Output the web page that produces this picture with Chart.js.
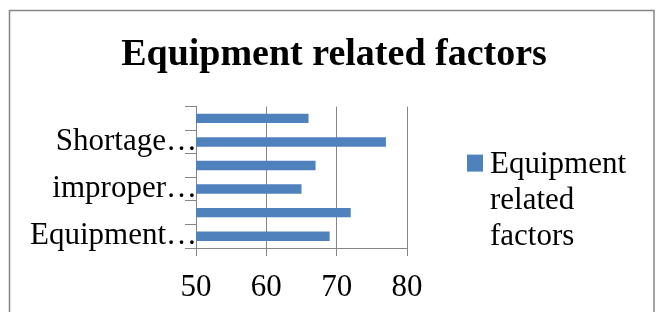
<!DOCTYPE html>
<html>
<head>
<meta charset="utf-8">
<script src="https://cdn.jsdelivr.net/npm/chart.js@4/dist/chart.umd.min.js"></script>
<style>
html,body{margin:0;padding:0;background:#fff;}
#wrap{width:660px;height:312px;position:relative;}
</style>
</head>
<body>
<div id="wrap"><canvas id="c" width="660" height="312"></canvas></div>
<script>
// categories listed bottom-to-top (first category is drawn at the bottom)
const categories = ["Equipment\u2026", "", "improper\u2026", "", "Shortage\u2026", ""];
const seriesName = "Equipment related factors";
const seriesValues = [69, 72, 65, 67, 77, 66];
const xTicks = [50, 60, 70, 80];
const chartTitle = "Equipment related factors";

const FONT = "'Liberation Serif', 'Times New Roman', serif";
const GRAY = "#868686";
const BLUE = "#4F81BD";

const frame = {
  id: 'frame',
  beforeDraw(chart) {
    const ctx = chart.ctx;
    ctx.save();
    ctx.fillStyle = '#fff';
    ctx.fillRect(0, 0, chart.width, chart.height);
    ctx.strokeStyle = GRAY;
    ctx.lineWidth = 1.5;
    ctx.strokeRect(9.5, 10.5, 644.5, 330);
    ctx.restore();
  }
};

const sideLegend = {
  id: 'sideLegend',
  afterDraw(chart) {
    const ctx = chart.ctx;
    const ca = chart.chartArea;
    const ds = chart.data.datasets[0];
    ctx.save();
    ctx.font = "31px " + FONT;
    const words = ds.label.split(' ');
    const maxW = 160;
    const lines = [];
    let cur = '';
    words.forEach(w => {
      const t = cur ? cur + ' ' + w : w;
      if (ctx.measureText(t).width > maxW && cur) { lines.push(cur); cur = w; }
      else cur = t;
    });
    if (cur) lines.push(cur);
    const x0 = ca.right + 60;
    const base0 = ca.top + 66;
    ctx.fillStyle = ds.backgroundColor;
    ctx.fillRect(x0, base0 - 18, 16, 17);
    ctx.fillStyle = '#000';
    ctx.textBaseline = 'alphabetic';
    lines.forEach((l, i) => ctx.fillText(l, x0 + 23, base0 + i * 36));
    ctx.restore();
  }
};

new Chart(document.getElementById('c'), {
  type: 'bar',
  data: {
    labels: categories,
    datasets: [{
      label: seriesName,
      data: seriesValues,
      backgroundColor: BLUE,
      borderWidth: 0,
      categoryPercentage: 1.0,
      barPercentage: 0.4
    }]
  },
  options: {
    indexAxis: 'y',
    responsive: false,
    animation: false,
    devicePixelRatio: 1,
    layout: { padding: { left: 8, right: 0, top: 0, bottom: 0 } },
    plugins: {
      legend: { display: false },
      tooltip: { enabled: false },
      title: {
        display: true,
        text: chartTitle,
        color: '#000',
        font: { family: FONT, size: 38, weight: 'bold' },
        padding: { top: 32, bottom: 29 }
      }
    },
    scales: {
      x: {
        type: 'linear',
        position: 'bottom',
        min: xTicks[0],
        max: xTicks[xTicks.length - 1],
        afterBuildTicks(axis) { axis.ticks = xTicks.map(v => ({ value: v })); },
        afterFit(axis) { axis.height = 64; },
        ticks: { color: '#000', font: { family: FONT, size: 31 }, padding: 13, maxRotation: 0 },
        grid: { color: GRAY, lineWidth: 1, drawTicks: true, tickLength: 8, tickColor: GRAY },
        border: { color: GRAY, width: 1 }
      },
      y: {
        type: 'category',
        reverse: true,
        offset: true,
        afterFit(axis) { axis.width = 188; },
        ticks: { color: '#000', font: { family: FONT, size: 31 }, padding: -12, autoSkip: false },
        grid: { offset: true, drawOnChartArea: false, drawTicks: true, tickLength: 11, color: GRAY, tickColor: GRAY },
        border: { color: GRAY, width: 1 }
      },
      legendSpace: {
        type: 'linear',
        axis: 'y',
        position: 'right',
        display: true,
        min: 0,
        max: 1,
        afterFit(axis) { axis.width = 253; },
        ticks: { display: false },
        grid: { display: false, drawTicks: false },
        border: { display: false }
      }
    }
  },
  plugins: [frame, sideLegend]
});
</script>
</body>
</html>
